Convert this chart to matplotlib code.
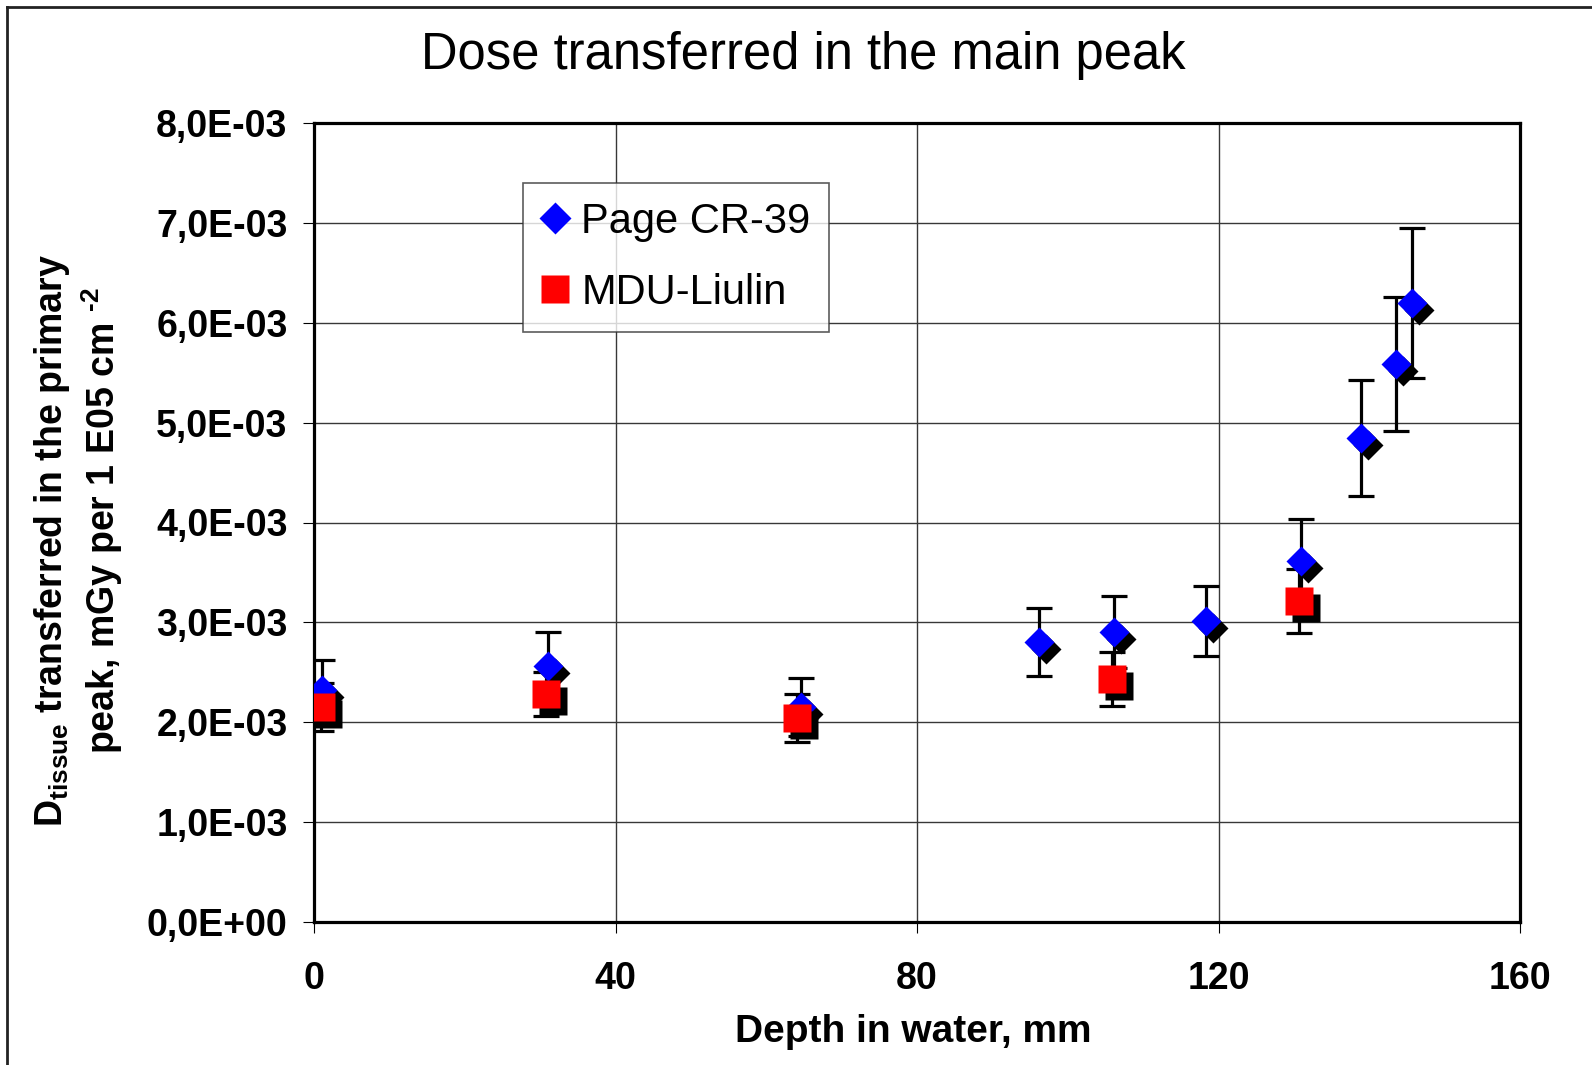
import numpy as np
import matplotlib
matplotlib.use("Agg")
import matplotlib.pyplot as plt
from matplotlib.lines import Line2D
from matplotlib.ticker import FuncFormatter, MultipleLocator
from matplotlib.transforms import ScaledTranslation

plt.rcParams['font.family'] = ['Liberation Sans', 'DejaVu Sans']
plt.rcParams['mathtext.fontset'] = 'custom'
plt.rcParams['mathtext.rm'] = 'Liberation Sans:bold'
plt.rcParams['mathtext.it'] = 'Liberation Sans:bold'
plt.rcParams['mathtext.bf'] = 'Liberation Sans:bold'

# Page CR-39 (blue diamonds)
depth_cr39 = [1.0, 31.0, 64.6, 96.2, 106.1, 118.3, 130.9, 138.9, 143.6, 145.7]
dose_cr39 = [2.32e-3, 2.56e-3, 2.15e-3, 2.80e-3, 2.90e-3, 3.01e-3, 3.61e-3, 4.85e-3, 5.59e-3, 6.20e-3]
err_cr39 = [0.30e-3, 0.34e-3, 0.29e-3, 0.34e-3, 0.36e-3, 0.35e-3, 0.43e-3, 0.58e-3, 0.67e-3, 0.75e-3]

# MDU-Liulin (red squares)
depth_liulin = [0.9, 30.8, 64.1, 105.9, 130.7]
dose_liulin = [2.15e-3, 2.28e-3, 2.04e-3, 2.43e-3, 3.21e-3]
err_liulin = [0.24e-3, 0.22e-3, 0.24e-3, 0.27e-3, 0.32e-3]

W, H = 1592, 1065
fig = plt.figure(figsize=(W / 100, H / 100), dpi=100)
ax = fig.add_axes([314 / W, 1 - 922 / H, (1520 - 314) / W, (922 - 123) / H])

# error bars first, markers on top
ax.errorbar(depth_cr39, dose_cr39, yerr=err_cr39, fmt='none', ecolor='black',
            elinewidth=2.3, capsize=9.5, capthick=2.3, zorder=3)
ax.errorbar(depth_liulin, dose_liulin, yerr=err_liulin, fmt='none', ecolor='black',
            elinewidth=2.3, capsize=9.5, capthick=2.3, zorder=3)

shadow = ax.transData + ScaledTranslation(0.07, -0.07, fig.dpi_scale_trans)
ax.plot(depth_cr39, dose_cr39, 'D', ms=15.6, mfc='black', mec='none',
        transform=shadow, zorder=4)
ax.plot(depth_cr39, dose_cr39, 'D', ms=15.6, mfc='#0000ff', mec='none', zorder=5)
ax.plot(depth_liulin, dose_liulin, 's', ms=19.8, mfc='black', mec='none',
        transform=shadow, zorder=6)
ax.plot(depth_liulin, dose_liulin, 's', ms=19.8, mfc='#ff0000', mec='none', zorder=7)

ax.set_xlim(0, 160)
ax.set_ylim(0, 8e-3)
ax.xaxis.set_major_locator(MultipleLocator(40))
ax.yaxis.set_major_locator(MultipleLocator(1e-3))


def sci_comma(v, pos):
    if abs(v) < 1e-12:
        return "0,0E+00"
    return f"{v * 1e3:.1f}E-03".replace('.', ',')


ax.yaxis.set_major_formatter(FuncFormatter(sci_comma))
ax.grid(True, color='#383838', linewidth=1.0, zorder=0)
ax.set_axisbelow(True)
for s in ax.spines.values():
    s.set_linewidth(2.3)
    s.set_color('black')

ax.tick_params(axis='both', direction='out', length=8, width=0.8, color='black')
ax.tick_params(axis='y', pad=11, labelsize=27)
ax.tick_params(axis='x', pad=20, labelsize=27)
for lab in ax.get_xticklabels() + ax.get_yticklabels():
    lab.set_fontweight('bold')

# legend
handles = [Line2D([], [], marker='D', ls='none', ms=16, mfc='#0000ff', mec='none'),
           Line2D([], [], marker='s', ls='none', ms=20, mfc='#ff0000', mec='none')]
leg = fig.legend(handles, ['Page CR-39', 'MDU-Liulin'], loc='upper left',
                 bbox_to_anchor=(523 / W, 1 - 183 / H), bbox_transform=fig.transFigure,
                 fontsize=30, frameon=True, fancybox=False, borderaxespad=0,
                 handlelength=0.65, handletextpad=0.3, labelspacing=0.75,
                 borderpad=0.45)
leg.get_frame().set_edgecolor('#333333')
leg.get_frame().set_linewidth(1.2)

fig.text(803 / W, 1 - 56 / H, "Dose transferred in the main peak",
         fontsize=36.5, ha='center', va='center')
fig.text(913 / W, 1 - 1032 / H, "Depth in water, mm", fontsize=28,
         fontweight='bold', ha='center', va='center')
fig.text(52 / W, 1 - 540 / H, r"D$_{\mathrm{tissue}}$ transferred in the primary",
         fontsize=27, fontweight='bold', rotation=90, ha='center', va='center')
fig.text(102 / W, 1 - 521 / H, "peak, mGy per 1 E05 cm $^{\u2010\\mathrm{2}}$",
         fontsize=27, fontweight='bold', rotation=90, ha='center', va='center')

# outer frame (left and top edges)
fig.add_artist(Line2D([7 / W, 7 / W], [0, 1 - 7 / H], transform=fig.transFigure,
                      color='#222222', linewidth=2))
fig.add_artist(Line2D([7 / W, 1], [1 - 7 / H, 1 - 7 / H], transform=fig.transFigure,
                      color='#222222', linewidth=2))

fig.savefig("out.png", dpi=100)
